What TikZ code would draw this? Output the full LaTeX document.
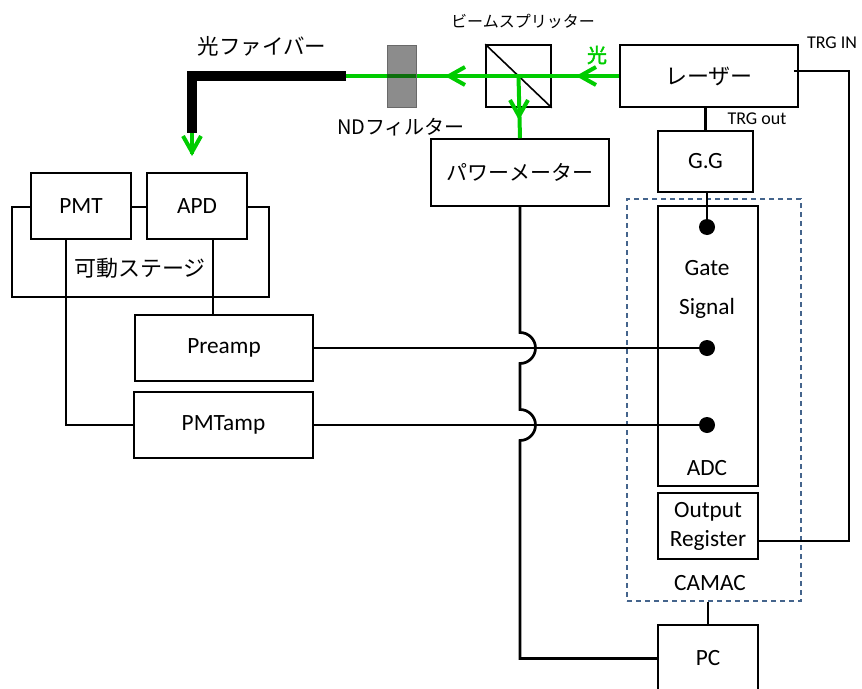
\documentclass[tikz,border=0pt]{standalone}
\usepackage{fontspec}
\setmainfont{Carlito}
\newfontfamily\jp{Noto Sans CJK JP}
\newfontfamily\jpbold[FakeBold=2]{Noto Sans CJK JP}
\usetikzlibrary{calc}
\definecolor{beamgreen}{RGB}{0,204,0}
\definecolor{ndgray}{RGB}{140,140,140}
\definecolor{ndedge}{RGB}{105,105,105}
\definecolor{ndgreen}{RGB}{12,110,12}
\definecolor{camacblue}{RGB}{68,100,140}
\begin{document}
\begin{tikzpicture}[x=1pt,y=-1pt,
  box/.style={draw, line width=1.5pt, fill=white, inner sep=0pt, font=\fontsize{23.3}{28}\selectfont, align=center},
  wire/.style={line width=2.7pt, line join=miter},
  beam/.style={line width=4pt, color=beamgreen},
  dotn/.style={circle, fill=black, inner sep=0pt, minimum size=16pt},
  lbl/.style={inner sep=0pt, font=\fontsize{23.3}{28}\selectfont},
  small/.style={inner sep=0pt, font=\fontsize{18}{21}\selectfont},
]
\useasboundingbox (0,0) rectangle (862,688);

% ---- CAMAC frame
\node[draw=camacblue, dash pattern=on 5pt off 4pt, line width=1.2pt, minimum width=174pt, minimum height=402pt, inner sep=0pt] (camac) at (714,400) {};
\node[lbl] (camaclbl) at (710,583) {CAMAC};

% ---- stage
\node[draw, line width=1.5pt, minimum width=257pt, minimum height=90pt, inner sep=0pt] (stage) at (140.5,252) {};
\node[lbl, font=\fontsize{22}{26}\selectfont] (stagelbl) at (140,268) {\jp 可動ステージ};

% ---- boxes
\node[box, minimum width=178pt, minimum height=62pt, font=\fontsize{22}{26}\selectfont] (laser) at (709,76) {\jp レーザー};
\node[box, minimum width=65pt, minimum height=62pt] (bs) at (518.5,76) {};
\draw[line width=1.6pt] (bs.north west) -- (bs.south east);
\node[box, minimum width=178pt, minimum height=67pt, font=\fontsize{21}{25}\selectfont] (pm) at (520,172.5) {\jp パワーメーター};
\node[box, minimum width=95pt, minimum height=61pt] (gg) at (705.5,161.5) {G.G};
\node[box, minimum width=100pt, minimum height=280pt] (adc) at (708,346) {};
\node[lbl] (gate) at (707,268) {Gate};
\node[lbl] (signal) at (707,308) {Signal};
\node[lbl] (adclbl) at (707,468) {ADC};
\node[box, minimum width=100pt, minimum height=66pt, font=\fontsize{23.3}{29}\selectfont] (outreg) at (708,526) {Output\\Register};
\node[box, minimum width=100pt, minimum height=67pt] (pc) at (708,658.5) {PC};
\node[box, minimum width=100pt, minimum height=66pt] (pmt) at (81,206) {PMT};
\node[box, minimum width=100pt, minimum height=66pt] (apd) at (197,206) {APD};
\node[box, minimum width=178pt, minimum height=66pt] (preamp) at (224,348) {Preamp};
\node[box, minimum width=179pt, minimum height=66pt] (pmtamp) at (223.5,425) {PMTamp};

% ---- dots
\node[dotn] (gd) at (707,227) {};
\node[dotn] (d1) at (707,348) {};
\node[dotn] (d2) at (707,425) {};

% ---- wires
\draw[wire] (gg.north) -- (gg.north |- laser.south);
\draw[wire] (gd) -- (gd |- gg.south);
\draw[wire] (pc.north) -- (pc.north |- camac.south);
\draw[wire] ([xshift=-15pt]pmt.south) |- (pmtamp.west);
\draw[wire] ([xshift=16pt]apd.south) -- ([xshift=16pt]apd.south |- preamp.north);
\draw[wire] (preamp.east) -- (d1);
\draw[wire] (pmtamp.east) -- (d2);
\coordinate (j1) at (pm.south |- preamp.east);
\coordinate (j2) at (pm.south |- pmtamp.east);
\draw[wire] (pm.south) -- ($(j1)+(0,-15.5)$) arc[start angle=90, end angle=-90, radius=15.5pt]
  -- ($(j2)+(0,-15.5)$) arc[start angle=90, end angle=-90, radius=15.5pt] |- (pc.west);
\coordinate (trgc) at (849,71);
\draw[wire] ([xshift=-5pt,yshift=5pt]laser.east) -- (trgc) |- ([yshift=-15pt]outreg.east);

% ---- light path
\coordinate (fs) at (346,76);
\coordinate (fc) at (192,76);
\coordinate (fe) at (192,133);
\coordinate (c1) at (580,76);
\coordinate (c2) at (449,76);
\coordinate (c3) at (519,116);
\coordinate (c4) at (192,152);
\draw[beam] (laser.west) -- (fs);
\draw[beam] (bs.center) -- (pm.north);
\draw[beam] ($(c1)+(16,-9)$) -- (c1) -- ($(c1)+(16,9)$);
\draw[beam] ($(c2)+(16,-9)$) -- (c2) -- ($(c2)+(16,9)$);
\draw[beam] ($(c3)+(-9,-16)$) -- (c3) -- ($(c3)+(9,-16)$);
\draw[beam] (fe) -- ($(c4)+(0,2)$);
\draw[beam] ($(c4)+(-9,-16)$) -- (c4) -- ($(c4)+(9,-16)$);
\draw[line width=10pt, line join=miter] (fs) -- (fc) -- (fe);
\node[draw=ndedge, fill=ndgray, line width=1pt, minimum width=29pt, minimum height=62pt, inner sep=0pt] (nd) at (401.5,76) {};
\draw[beam, color=ndgreen] ([xshift=0.5pt]nd.west |- fs) -- ([xshift=-0.5pt]nd.east |- fs);

% ---- labels
\node[inner sep=0pt, font=\fontsize{21.5}{25}\selectfont] (fiberlbl) at (262,46) {\jp 光ファイバー};
\node[inner sep=0pt, font=\fontsize{16}{19}\selectfont] (bslbl) at (523,21) {\jp ビームスプリッター};
\node[inner sep=0pt, font=\fontsize{20}{24}\selectfont] (ndlbl) at (401,127) {\jp NDフィルター};
\node[inner sep=0pt, font=\fontsize{20}{24}\selectfont, text=beamgreen] (hikari) at (597,55) {\jpbold 光};
\node[small] (trgin) at (832,43) {TRG IN};
\node[small] (trgout) at (757,119) {TRG out};
\end{tikzpicture}
\end{document}
